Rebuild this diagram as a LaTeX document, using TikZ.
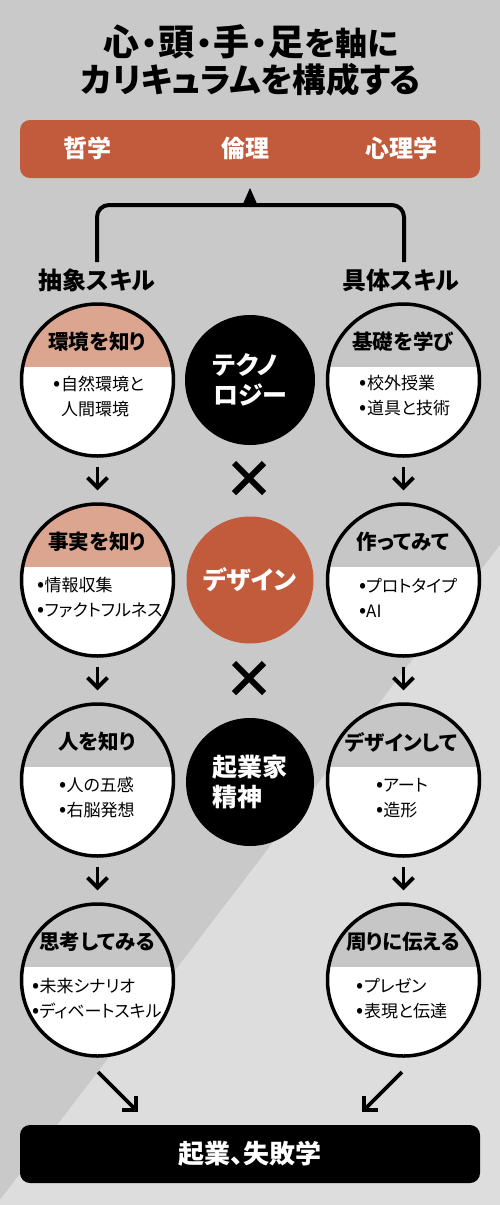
\documentclass[tikz,border=0pt]{standalone}
\usepackage{fontspec}
\setmainfont{Noto Sans CJK JP}[RawFeature={+palt}]
\usetikzlibrary{arrows.meta,calc}
\definecolor{bgtop}{HTML}{C9C9C9}
\definecolor{bglight}{HTML}{DDDDDD}
\definecolor{brick}{HTML}{C25B3C}
\definecolor{salmon}{HTML}{DCA58F}
\definecolor{hdrgray}{HTML}{C6C6C6}
\newcommand{\mybul}{{\fontsize{21}{25}\selectfont •}}
\newcommand{\bigkanji}[1]{{\fontsize{36}{40}\selectfont #1}}
\newcommand{\tdot}{\kern1.5pt・\kern1.5pt}
\begin{document}
\begin{tikzpicture}[x=1pt,y=-1pt,
  bar/.style={rectangle, rounded corners=10pt, minimum width=460pt, minimum height=58pt, inner sep=0pt},
  bartext/.style={text=white, font=\bfseries\fontsize{24}{28}\selectfont},
  lab/.style={font=\bfseries\fontsize{24}{28}\selectfont},
  skill/.style={circle, draw=black, line width=3.5pt, fill=white, minimum size=152pt, inner sep=0pt,
    path picture={\fill[#1] (path picture bounding box.north west) rectangle ([yshift=13pt]path picture bounding box.east);}},
  hdr/.style={font=\bfseries\fontsize{20.5}{24}\selectfont},
  items/.style={align=left, font=\fontsize{17}{25}\selectfont, inner sep=0pt},
  core/.style={circle, inner sep=0pt, text=white, align=left, font=\bfseries\fontsize{25}{30}\selectfont},
  varr/.style={line width=3.8pt, -{Straight Barb[length=10pt,width=20pt]}, shorten <=9pt, shorten >=12pt},
  darr/.style={line width=3.8pt, -{Straight Barb[length=10pt,width=20pt]}},
  cross/.style={line width=6pt},
  bracket/.style={line width=4pt, rounded corners=12pt}
]
% background
\fill[bgtop] (0,0) rectangle (500,1205);
\fill[bglight] (500,545) -- (500,1205) -- (0,1205) -- (0,1200) -- cycle;
\useasboundingbox (0,0) rectangle (500,1205);

% title
\node[font=\bfseries\fontsize{32}{40}\selectfont, inner sep=0pt] (title1) at (251,42)
  {\bigkanji{心}\tdot\bigkanji{頭}\tdot\bigkanji{手}\tdot\bigkanji{足}を軸に};
\node[font=\bfseries\fontsize{33.5}{40}\selectfont, inner sep=0pt] (title2) at (251,80) {カリキュラムを構成する};

% top bar
\node[bar, fill=brick] (topbar) at (250,149) {};
\node[bartext] (tetsu) at (87,148) {哲学};
\node[bartext] (rinri) at (245,148) {倫理};
\node[bartext] (shinri) at (401,148) {心理学};

% bracket
\coordinate (bl) at (97,262);
\coordinate (br) at (404,262);
\coordinate (bm) at (250,205);
\draw[bracket] (bl) |- (bm) -| (br);
\fill ($(bm)+(-8,1)$) -- ($(bm)+(8,1)$) -- ($(bm)+(0,-17)$) -- cycle;

\node[lab] (abs) at (97,280) {抽象スキル};
\node[lab] (con) at (401,280) {具体スキル};

% left column
\node[skill=salmon] (L1) at (97.5,380) {};
\node[skill=salmon] (L2) at (97.5,580) {};
\node[skill=hdrgray] (L3) at (97.5,780) {};
\node[skill=hdrgray] (L4) at (97.5,980) {};
% right column
\node[skill=hdrgray] (R1) at (403.5,380) {};
\node[skill=hdrgray] (R2) at (403.5,580) {};
\node[skill=hdrgray] (R3) at (403.5,780) {};
\node[skill=hdrgray] (R4) at (403.5,980) {};

% headers
\node[hdr] (L1h) at (97,342) {環境を知り};
\node[hdr] (L2h) at (97,542) {事実を知り};
\node[hdr] (L3h) at (97,742) {人を知り};
\node[hdr] (L4h) at (97,942) {思考してみる};
\node[hdr] (R1h) at (403,342) {基礎を学び};
\node[hdr] (R2h) at (403,542) {作ってみて};
\node[hdr] (R3h) at (401,742) {デザインして};
\node[hdr] (R4h) at (403,942) {周りに伝える};

% items
\node[items] (L1i) at (99,396) {\mybul 自然環境と\\\phantom{\mybul}人間環境};
\node[items] (L2i) at (100,598) {\mybul 情報収集\\\mybul ファクトフルネス};
\node[items] (L3i) at (97,798) {\mybul 人の五感\\\mybul 右脳発想};
\node[items] (L4i) at (97,999) {\mybul 未来シナリオ\\\mybul ディベートスキル};
\node[items] (R1i) at (405,396) {\mybul 校外授業\\\mybul 道具と技術};
\node[items] (R2i) at (408,598) {\mybul プロトタイプ\\\mybul AI};
\node[items] (R3i) at (402,798) {\mybul アート\\\mybul 造形};
\node[items] (R4i) at (402,999) {\mybul プレゼン\\\mybul 表現と伝達};

% core circles
\node[core, fill=black, minimum size=130pt] (tech) at (250,380) {テクノ\\ロジー};
\node[core, fill=brick, minimum size=127pt] (design) at (250,580) {デザイン};
\node[core, fill=black, minimum size=128pt] (ent) at (250,782) {起業家\\精神};

% crosses
\coordinate (x1) at (249,478);
\coordinate (x2) at (249,678);
\foreach \c in {x1,x2}{
  \draw[cross] ($(\c)+(-15,-15)$) -- ($(\c)+(15,15)$);
  \draw[cross] ($(\c)+(15,-15)$) -- ($(\c)+(-15,15)$);
}

% vertical arrows
\draw[varr] (L1.south) -- (L2.north);
\draw[varr] (L2.south) -- (L3.north);
\draw[varr] (L3.south) -- (L4.north);
\draw[varr] (R1.south) -- (R2.north);
\draw[varr] (R2.south) -- (R3.north);
\draw[varr] (R3.south) -- (R4.north);

% bottom bar
\node[bar, fill=black, text=white, font=\bfseries\fontsize{26}{30}\selectfont] (bottom) at (250,1154) {起業、失敗学};

% diagonal arrows
\coordinate (dla) at (98,1072);
\coordinate (dlb) at (138,1112);
\coordinate (dra) at (402,1072);
\coordinate (drb) at (362,1112);
\draw[darr] (dla) -- (dlb);
\draw[darr] (dra) -- (drb);
\end{tikzpicture}
\end{document}
